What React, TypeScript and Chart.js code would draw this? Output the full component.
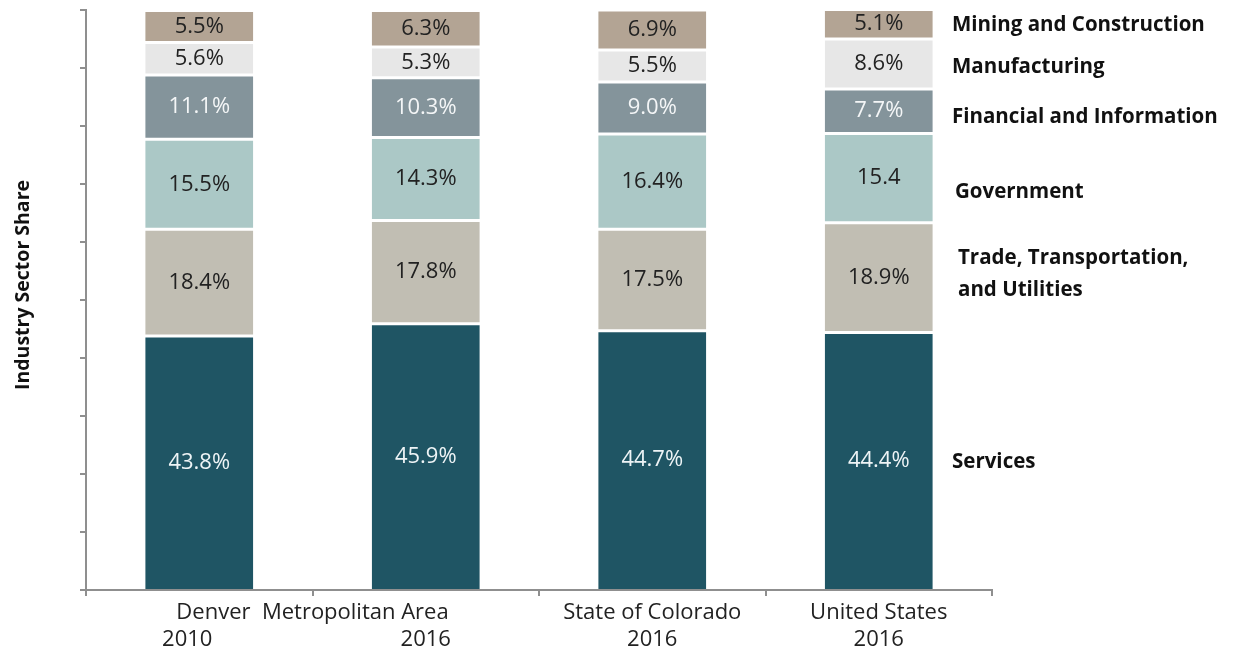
import React, { useEffect, useRef } from "react";
import { Chart, registerables } from "chart.js";

Chart.register(...registerables);

const categories = ["Denver 2010", "Denver 2016", "State of Colorado 2016", "United States 2016"];
const groupLabel = "Denver  Metropolitan Area";
const xLine1 = ["", "", "State of Colorado", "United States"];
const xLine2 = ["2010", "2016", "2016", "2016"];

const sectors = [
  "Services",
  "Trade, Transportation,\nand Utilities",
  "Government",
  "Financial and Information",
  "Manufacturing",
  "Mining and Construction",
];

const services = [43.8, 45.9, 44.7, 44.4];
const trade = [18.4, 17.8, 17.5, 18.9];
const government = [15.5, 14.3, 16.4, 15.4];
const financial = [11.1, 10.3, 9.0, 7.7];
const manufacturing = [5.6, 5.3, 5.5, 8.6];
const mining = [5.5, 6.3, 6.9, 5.1];

const seriesValues = [services, trade, government, financial, manufacturing, mining];
const colors = ["#1f5564", "#c1beb3", "#abc8c6", "#84949b", "#e7e7e7", "#b3a494"];
const labelColors = ["#eef4f6", "#222222", "#222222", "#f4f6f7", "#222222", "#222222"];
const legendYOffsets = [1, -4, 14, 6, 3, 1];

const yTicks = [0, 10, 20, 30, 40, 50, 60, 70, 80, 90, 100];

const FONT = "'Open Sans', 'DejaVu Sans', sans-serif";

const textPlugin = {
  id: "customText",
  afterDatasetsDraw(chart: any) {
    const ctx = chart.ctx;
    ctx.save();
    ctx.textBaseline = "middle";
    // data labels
    seriesValues.forEach((vals, di) => {
      const meta = chart.getDatasetMeta(di);
      meta.data.forEach((el: any, i: number) => {
        const v = vals[i];
        const txt = di === 2 && i === 3 ? v.toFixed(1) : v.toFixed(1) + "%";
        const y = (el.y + el.base) / 2;
        ctx.font = `22px ${FONT}`;
        ctx.fillStyle = labelColors[di];
        ctx.textAlign = "center";
        ctx.fillText(txt, el.x, y);
      });
      // right side labels
      const last = meta.data[meta.data.length - 1];
      const cy = (last.y + last.base) / 2 + legendYOffsets[di];
      const lines = sectors[di].split("\n");
      ctx.font = `bold 20.5px ${FONT}`;
      ctx.fillStyle = "#111111";
      ctx.textAlign = "left";
      const lh = 32;
      lines.forEach((ln, li) => {
        ctx.fillText(ln, 952 + (di === 1 ? 6 : di === 2 ? 3 : 0), cy + (li - (lines.length - 1) / 2) * lh);
      });
    });
    // x labels
    const xs = chart.scales.x;
    const y1 = xs.top + 23;
    const y2 = y1 + 27;
    ctx.font = `22px ${FONT}`;
    ctx.fillStyle = "#222222";
    ctx.textAlign = "center";
    const p0 = xs.getPixelForValue(0);
    const p1 = xs.getPixelForValue(1);
    ctx.fillText(groupLabel, (p0 + p1) / 2, y1);
    categories.forEach((_, i) => {
      const px = xs.getPixelForValue(i) + (i === 0 ? -12 : 0);
      if (xLine1[i]) ctx.fillText(xLine1[i], px, y1);
      ctx.fillText(xLine2[i], px, y2);
    });
    // y title
    ctx.save();
    ctx.translate(23, 285);
    ctx.rotate(-Math.PI / 2);
    ctx.font = `bold 19.5px ${FONT}`;
    ctx.fillStyle = "#111111";
    ctx.textAlign = "center";
    ctx.fillText("Industry Sector Share", 0, 0);
    ctx.restore();
    ctx.restore();
  },
};

export default function App() {
  const ref = useRef<HTMLCanvasElement>(null);
  useEffect(() => {
    if (!ref.current) return;
    const chart = new Chart(ref.current, {
      type: "bar",
      data: {
        labels: categories,
        datasets: seriesValues.map((vals, i) => ({
          label: sectors[i],
          data: vals,
          backgroundColor: colors[i],
          borderColor: "#ffffff",
          borderWidth: i === 0 ? { top: 1.5, bottom: 0, left: 0, right: 0 } : { top: 1.5, bottom: 1.5, left: 0, right: 0 },
          borderSkipped: false,
          barPercentage: 0.477,
          categoryPercentage: 1,
        })),
      },
      options: {
        animation: false,
        responsive: false,
        maintainAspectRatio: false,
        layout: { padding: { top: 10, right: 241, left: 0, bottom: 0 } },
        plugins: {
          legend: { display: false },
          tooltip: { enabled: false },
        },
        scales: {
          x: {
            stacked: true,
            ticks: { display: false },
            grid: {
              drawOnChartArea: false,
              drawTicks: true,
              tickLength: 6,
              color: "#8f8f8f",
              lineWidth: 2,
              offset: true,
            },
            border: { color: "#8f8f8f", width: 2 },
            afterFit: (s: any) => {
              s.height = 66;
            },
          },
          y: {
            stacked: true,
            min: 0,
            max: 100,
            afterBuildTicks: (s: any) => {
              s.ticks = yTicks.map((v) => ({ value: v }));
            },
            ticks: { display: false },
            grid: {
              drawOnChartArea: false,
              drawTicks: true,
              tickLength: 6,
              color: "#8f8f8f",
              lineWidth: 2,
            },
            border: { color: "#8f8f8f", width: 2 },
            afterFit: (s: any) => {
              s.width = 86;
            },
          },
        },
      },
      plugins: [textPlugin],
    } as any);
    return () => chart.destroy();
  }, []);
  return (
    <div style={{ position: "fixed", left: 0, top: 0, width: 1233, height: 656, background: "#fff" }}>
      <canvas ref={ref} width={1233} height={656} style={{ width: 1233, height: 656 }} />
    </div>
  );
}
